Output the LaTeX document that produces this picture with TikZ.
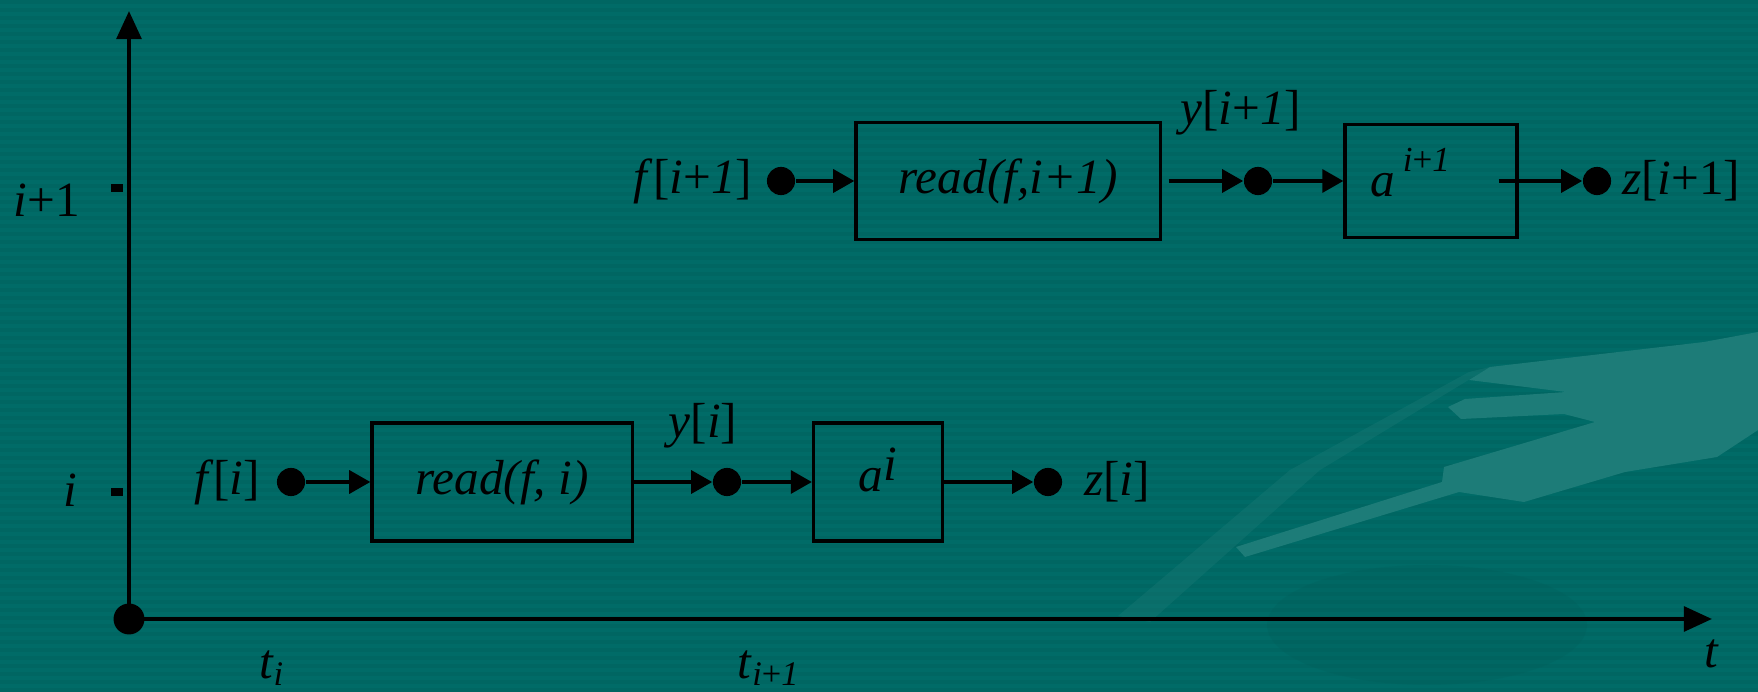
\documentclass[tikz,border=0pt]{standalone}
\usepackage{fontspec}
\setmainfont{Liberation Serif}
\usepackage{tikz}
\usetikzlibrary{positioning,arrows.meta}

\definecolor{slide}{HTML}{006B67}
\definecolor{slidestripe}{HTML}{00625E}
\definecolor{penlight}{HTML}{1D7C78}
\definecolor{pendark}{HTML}{005E5A}

\newcommand{\iv}[1]{\textit{#1}}

\begin{document}
\begin{tikzpicture}[
    x=0.01cm, y=-0.01cm,
    font=\fontsize{14}{17}\selectfont,
    >={Triangle[length=6pt,width=6.5pt]},
    blk/.style={rectangle, draw, line width=0.9pt, inner sep=2pt},
    port/.style={circle, fill, minimum size=8pt, inner sep=0pt},
    lbl/.style={inner sep=1pt},
    conn/.style={->, line width=1.1pt},
    axis/.style={-{Triangle[length=8pt,width=7pt]}, line width=1.2pt},
    tick/.style={rectangle, fill, minimum width=3.4pt, minimum height=2.3pt, inner sep=0pt},
]

% --- slide background ---
\fill[slide] (0,0) rectangle (1758,692);
\foreach \k in {0,...,86}
  \fill[slidestripe, opacity=0.5] (0,8*\k) rectangle (1758,8*\k+4);
\fill[pendark, opacity=0.25] (1427,625) ellipse [x radius=160, y radius=60];
\fill[penlight, opacity=0.35] (1469,372) -- (1490,367) -- (1320,470)
  -- (1150,622) -- (1118,616) -- (1290,470) -- cycle;
\fill[penlight] (1490,367) -- (1704,342) -- (1758,332) -- (1758,430)
  -- (1717,457) -- (1625,472) -- (1524,502) -- (1459,492) -- (1245,557)
  -- (1236,547) -- (1442,482) -- (1444,467) -- (1595,422) -- (1564,414)
  -- (1461,419) -- (1448,407) -- (1465,399) -- (1566,392) -- (1469,380)
  -- cycle;
\useasboundingbox (0,0) rectangle (1758,692);

% --- axes ---
\node[port, minimum width=8.2pt, minimum height=8.8pt] (org) at (129,619) {};
\coordinate (ytop) at (129,11);
\coordinate (xend) at (1712,619);
\draw[axis] (org.center) -- (ytop);
\draw[axis] (org.center) -- (xend);

\node[tick] (tk1) at (117,188) {};
\node[tick] (tk0) at (117,492) {};
\node[lbl] (li1) at (47,200) {\iv{i}+1};
\node[lbl] (li0) at (70,490) {\iv{i}};
\node[lbl] (lt0) at (272,668) {\iv{t}\textsubscript{\iv{i}}};
\node[lbl] (lt1) at (769,668) {\iv{t}\textsubscript{\iv{i}+\iv{1}}};
\node[lbl] (lt)  at (1712,654) {\iv{t}};

% --- step i ---
\node[port] (fin) at (291,482) {};
\node[lbl, left=0.12cm of fin] (fi) {\iv{f}[\iv{i}]};
\node[blk, minimum width=2.6cm, minimum height=1.18cm] (rdi) at (502,482) {\iv{read(f, i)}};
\node[port] (yout) at (727,482) {};
\node[lbl] (yi) at (703,426) {\iv{y}[\iv{i}]};
\node[blk, minimum width=1.29cm, minimum height=1.18cm] (ai) at (878,482) {};
\node[lbl] at (878,470) {\iv{a}\raisebox{0.45ex}{\iv{i}}};
\node[port] (zout) at (1048,482) {};
\node[lbl, right=0.17cm of zout] (zi) {\iv{z}[\iv{i}]};

\draw[conn] (fin) -- (rdi);
\draw[conn] (rdi) -- (yout);
\draw[conn] (yout) -- (ai);
\draw[conn] (ai) -- (zout);

% --- step i+1 ---
\node[port] (fin1) at (781,181) {};
\node[lbl, left=0.1cm of fin1] (fi1) {\iv{f}[\iv{i}+\iv{1}]};
\node[blk, minimum width=3.04cm, minimum height=1.17cm] (rd1) at (1008,181) {\iv{read(f,i+1)}};
\node[port] (yout1) at (1258,181) {};
\node[lbl] (yi1) at (1241,113) {\iv{y}[\iv{i}+\iv{1}]};
\node[blk, minimum width=1.72cm, minimum height=1.13cm] (a1) at (1431,181) {};
\node[lbl] at (1410,173) {\iv{a}\,\raisebox{1.1ex}{\fontsize{10}{12}\selectfont\iv{i}+\iv{1}}};
\node[port] (zout1) at (1597,181) {};
\node[lbl, right=0.06cm of zout1] (zi1) {\iv{z}[\iv{i}+1]};

\draw[conn] (fin1) -- (rd1);
\draw[conn] ([xshift=2pt]rd1.east) -- (yout1);
\draw[conn] (yout1) -- (a1);
\draw[conn] ([xshift=-0.2cm]a1.east) -- (zout1);

\end{tikzpicture}
\end{document}
